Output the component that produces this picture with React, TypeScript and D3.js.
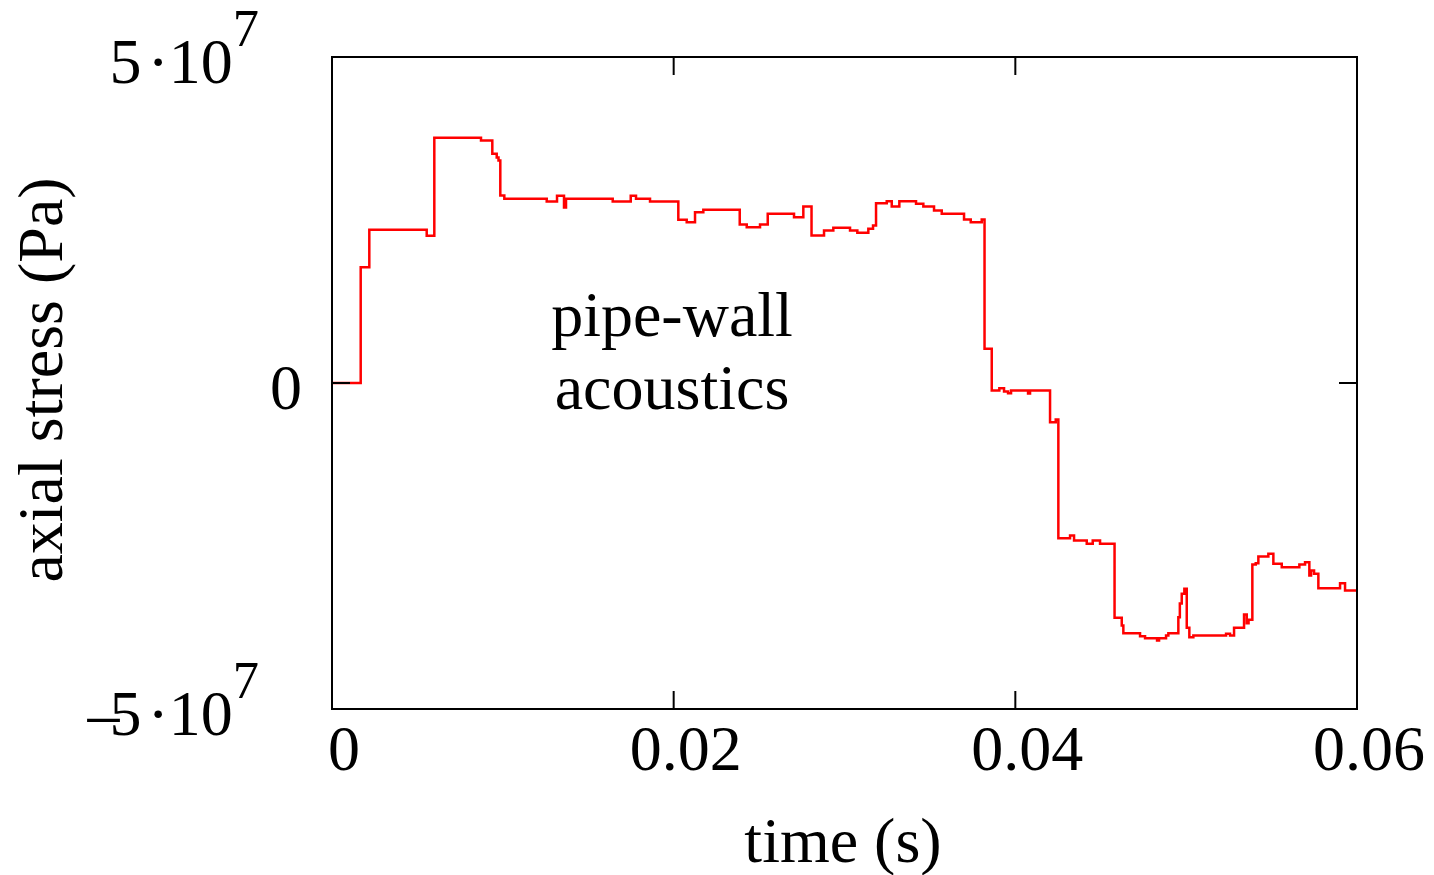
import React from 'react';
import * as d3 from 'd3';

// time in seconds, axial stress in Pa (step-after trace)
const timeS = [
  0, 0.00168, 0.002184, 0.005544, 0.005989, 0.008722, 0.009384, 0.009642, 0.009747, 0.009852,
  0.010087, 0.012569, 0.013172, 0.013581, 0.013698, 0.016432, 0.017486, 0.017796, 0.018616, 0.020272,
  0.020764, 0.02125, 0.021736, 0.023867, 0.024277, 0.025055, 0.025506, 0.027045, 0.02759, 0.02807,
  0.028802, 0.029346, 0.030324, 0.030751, 0.031395, 0.03167, 0.031846, 0.032472, 0.032765, 0.03321,
  0.034187, 0.034615, 0.035241, 0.035692, 0.036997, 0.037389, 0.038033, 0.038197, 0.038619, 0.039064,
  0.039339, 0.039573, 0.039749, 0.040744, 0.040861, 0.042032, 0.042365, 0.042518, 0.043203, 0.043437,
  0.04418, 0.044531, 0.044959, 0.045808, 0.046229, 0.046323, 0.0473, 0.047593, 0.048296, 0.048413,
  0.048822, 0.048957, 0.049542, 0.04963, 0.049741, 0.049894, 0.050034, 0.050186, 0.050421, 0.052335,
  0.052569, 0.052803, 0.053388, 0.053547, 0.053652, 0.053874, 0.054073, 0.054226, 0.054811, 0.055104,
  0.055596, 0.056626, 0.056959, 0.057211, 0.057311, 0.057486, 0.057738, 0.059008, 0.0593, 0.06,
];
const stressPa = [
  0, 1.776e7, 2.35e7, 2.258e7, 3.761e7, 3.719e7, 3.515e7, 3.459e7, 3.412e7, 2.876e7,
  2.825e7, 2.784e7, 2.871e7, 2.692e7, 2.825e7, 2.784e7, 2.871e7, 2.825e7, 2.784e7, 2.503e7,
  2.466e7, 2.62e7, 2.656e7, 2.431e7, 2.389e7, 2.431e7, 2.595e7, 2.543e7, 2.707e7, 2.262e7,
  2.339e7, 2.38e7, 2.339e7, 2.304e7, 2.365e7, 2.416e7, 2.758e7, 2.788e7, 2.707e7, 2.788e7,
  2.748e7, 2.707e7, 2.646e7, 2.595e7, 2.508e7, 2.466e7, 2.508e7, 0.525e7, -0.115e7, -0.08e7,
  -0.13e7, -0.156e7, -0.115e7, -0.161e7, -0.115e7, -0.601e7, -0.56e7, -2.38e7, -2.339e7, -2.416e7,
  -2.466e7, -2.416e7, -2.466e7, -3.601e7, -3.719e7, -3.837e7, -3.883e7, -3.914e7, -3.949e7, -3.914e7,
  -3.873e7, -3.837e7, -3.592e7, -3.382e7, -3.233e7, -3.156e7, -3.754e7, -3.899e7, -3.873e7, -3.847e7,
  -3.873e7, -3.754e7, -3.551e7, -3.684e7, -3.632e7, -2.784e7, -2.764e7, -2.661e7, -2.62e7, -2.773e7,
  -2.825e7, -2.784e7, -2.749e7, -2.952e7, -2.876e7, -2.926e7, -3.147e7, -3.071e7, -3.182e7, -3.182e7,
];
const xTicks = [0, 0.02, 0.04, 0.06];
const xTickLabels = ['0', '0.02', '0.04', '0.06'];
const yTicks = [-5e7, 0, 5e7];

const W = 1434;
const H = 875;
const left = 332, right = 1357, top = 57, bottom = 709;
const font = '"Liberation Serif", "Times New Roman", serif';
const fs = 64;
const tickLen = 18;

export default function App() {
  const x = d3.scaleLinear().domain([0, 0.06]).range([left, right]);
  const y = d3.scaleLinear().domain([-5e7, 5e7]).range([bottom, top]);
  const pts = timeS.map((t, i) => [t, stressPa[i]] as [number, number]);
  const line = d3.line<[number, number]>()
    .x(d => x(d[0]))
    .y(d => y(d[1]))
    .curve(d3.curveStepAfter);

  const yLabel = (v: number) => {
    if (v === 0) return <tspan>0</tspan>;
    const m = v / 1e7;
    return (
      <>
        <tspan>{m < 0 ? '\u2013' : ''}</tspan>
        <tspan dx={m < 0 ? -10 : 0}>{Math.abs(m)}</tspan>
        <tspan dx={6}>·10</tspan>
        <tspan dy={-37} fontSize={fs * 0.82}>7</tspan>
      </>
    );
  };

  return (
    <svg width={W} height={H} style={{ position: 'absolute', left: 0, top: 0 }}
      fontFamily={font}>
      <rect x={0} y={0} width={W} height={H} fill="#fff" />
      <path d={line(pts) ?? ''} fill="none" stroke="#ff0000" strokeWidth={2.5} />
      <rect x={left} y={top} width={right - left} height={bottom - top}
        fill="none" stroke="#000" strokeWidth={2} />
      {xTicks.map(t => (
        <g key={'xt' + t}>
          <line x1={x(t)} x2={x(t)} y1={bottom} y2={bottom - tickLen} stroke="#000" strokeWidth={2} />
          <line x1={x(t)} x2={x(t)} y1={top} y2={top + tickLen} stroke="#000" strokeWidth={2} />
        </g>
      ))}
      {yTicks.map(v => (
        <g key={'yt' + v}>
          <line x1={left} x2={left + tickLen} y1={y(v)} y2={y(v)} stroke="#000" strokeWidth={2} />
          <line x1={right} x2={right - tickLen} y1={y(v)} y2={y(v)} stroke="#000" strokeWidth={2} />
        </g>
      ))}
      {xTicks.map((t, i) => (
        <text key={'xl' + t} x={x(t) + 12} y={770} fontSize={fs} textAnchor="middle">
          {xTickLabels[i]}
        </text>
      ))}
      {yTicks.map(v => (
        <text key={'yl' + v} x={v === 0 ? 302 : 259} y={y(v) + 26} fontSize={fs} textAnchor="end">
          {yLabel(v)}
        </text>
      ))}
      <text x={843} y={862} fontSize={fs} textAnchor="middle">time (s)</text>
      <text transform="translate(62,380) rotate(-90)" fontSize={fs} textAnchor="middle">
        axial stress (Pa)
      </text>
      <text x={672} y={336} fontSize={fs} textAnchor="middle">pipe-wall</text>
      <text x={672} y={409} fontSize={fs} textAnchor="middle">acoustics</text>
    </svg>
  );
}
